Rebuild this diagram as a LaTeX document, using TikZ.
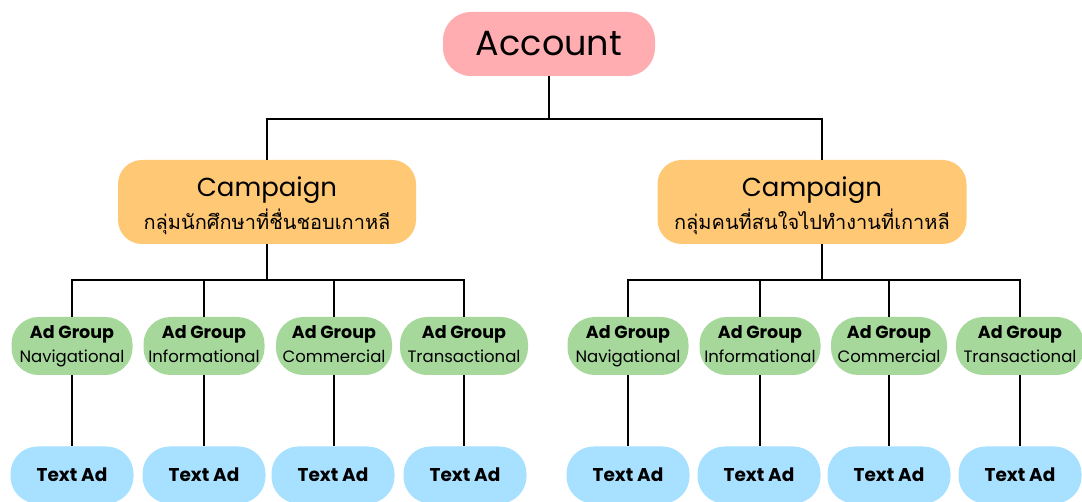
\documentclass[tikz,border=0pt]{standalone}
\usepackage{fontspec}
\setmainfont{Poppins}
\newfontfamily\thai[Script=Thai]{Loma}
\definecolor{accpink}{RGB}{255,173,176}
\definecolor{camporange}{RGB}{255,200,117}
\definecolor{grpgreen}{RGB}{166,216,156}
\definecolor{adblue}{RGB}{168,225,255}
\tikzset{
  conn/.style={line width=2.4pt, black},
  accbox/.style={fill=accpink, rounded corners=28pt, minimum width=212pt, minimum height=64pt, inner sep=0pt, font=\fontsize{35}{38}\selectfont},
  campbox/.style={fill=camporange, rounded corners=24pt, minimum height=84pt, inner sep=0pt, align=center},
  grpbox/.style={fill=grpgreen, rounded corners=27pt, minimum width=121pt, minimum height=58pt, inner xsep=2pt, inner ysep=0pt, align=center},
  adbox/.style={fill=adblue, rounded corners=27pt, minimum width=123pt, minimum height=57pt, inner sep=0pt, font=\bfseries\fontsize{18.5}{20}\selectfont},
}
\newcommand{\camptext}[1]{{\fontsize{26}{30}\selectfont\rule{0pt}{27pt}Campaign\vphantom{Cg}}\\[5pt]{\thai\fontsize{20}{24}\selectfont #1}}
\newcommand{\grptext}[1]{{\bfseries\fontsize{17.5}{21}\selectfont Ad Group\vphantom{Ag}}\\[6pt]{\fontsize{16.5}{20}\selectfont #1\vphantom{Ng}}}
\begin{document}
\begin{tikzpicture}[x=1pt,y=-1pt]
\useasboundingbox (0,0) rectangle (1082,502);
\node[accbox] (acc) at (549,44) {Account};
\node[campbox, minimum width=298pt] (c1) at (267,202) {\camptext{กลุ่มนักศึกษาที่ชื่นชอบเกาหลี}};
\node[campbox, minimum width=309pt] (c2) at (812,202) {\camptext{กลุ่มคนที่สนใจไปทำงานที่เกาหลี}};
% ad groups
\node[grpbox] (g1) at (72,346) {\grptext{Navigational}};
\node[grpbox] (g2) at (204,346) {\grptext{Informational}};
\node[grpbox, minimum width=116pt] (g3) at (334,346) {\grptext{Commercial}};
\node[grpbox, minimum width=128pt] (g4) at (464,346) {\grptext{Transactional}};
\node[grpbox] (g5) at (628,346) {\grptext{Navigational}};
\node[grpbox] (g6) at (760,346) {\grptext{Informational}};
\node[grpbox, minimum width=116pt] (g7) at (889,346) {\grptext{Commercial}};
\node[grpbox, minimum width=128pt] (g8) at (1020,346) {\grptext{Transactional}};
% text ads
\node[adbox] (t1) at (72,475) {Text Ad};
\node[adbox] (t2) at (204,475) {Text Ad};
\node[adbox] (t3) at (333,475) {Text Ad};
\node[adbox] (t4) at (465,475) {Text Ad};
\node[adbox] (t5) at (628,475) {Text Ad};
\node[adbox] (t6) at (759,475) {Text Ad};
\node[adbox] (t7) at (889,475) {Text Ad};
\node[adbox] (t8) at (1020,475) {Text Ad};
% connectors
\draw[conn] (acc.south) -- ++(0,43) coordinate (j0);
\draw[conn] (c1.north) |- (j0) -| ([xshift=10pt]c2.north);
\draw[conn] (c1.south) -- ++(0,36) coordinate (j1);
\draw[conn] (g1.north) |- (j1) -| (g4.north);
\draw[conn] (g2.north) -- (g2.north |- j1);
\draw[conn] (g3.north) -- (g3.north |- j1);
\draw[conn] ([xshift=10pt]c2.south) -- ++(0,36) coordinate (j2);
\draw[conn] (g5.north) |- (j2) -| (g8.north);
\draw[conn] (g6.north) -- (g6.north |- j2);
\draw[conn] (g7.north) -- (g7.north |- j2);
\foreach \i in {1,...,8}{\draw[conn] (g\i.south) -- (g\i.south |- t\i.north);}
\end{tikzpicture}
\end{document}
